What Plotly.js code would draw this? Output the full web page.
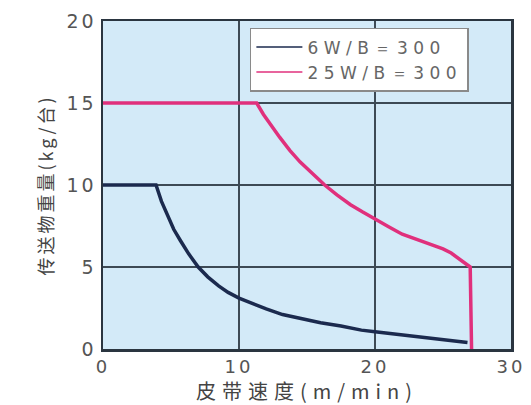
<!DOCTYPE html>
<html>
<head>
<meta charset="utf-8">
<script src="https://cdn.plot.ly/plotly-3.0.1.min.js"></script>
<style>
html,body{margin:0;padding:0;background:#fff;}
#chart{width:531px;height:405px;}
.xtick text, .ytick text { letter-spacing: 3px; }
text.legendtext { letter-spacing: 5.5px; }
text.xtitle { letter-spacing: 6px; }
text.ytitle { letter-spacing: 3px; }
</style>
</head>
<body>
<div id="chart"></div>
<script>
// Series 1: 6W / B=300  (belt speed m/min -> conveyed weight kg)
const speed6W = [0, 3.9, 4.3, 4.7, 5.2, 5.7, 6.3, 7.0, 7.7, 8.5, 9.2, 10.0, 11.0, 12.0, 13.2, 14.5, 16.0, 17.5, 19.0, 20.0, 21.5, 23.0, 25.0, 26.8];
const weight6W = [10, 10, 9.0, 8.2, 7.3, 6.6, 5.8, 5.0, 4.4, 3.85, 3.45, 3.1, 2.75, 2.45, 2.1, 1.85, 1.6, 1.4, 1.15, 1.05, 0.9, 0.75, 0.55, 0.4];
// Series 2: 25W / B=300
const speed25W = [0, 11.3, 11.8, 12.3, 13.0, 13.75, 14.5, 15.4, 16.3, 17.2, 18.2, 19.1, 20.0, 21.0, 22.0, 23.0, 24.0, 25.0, 25.6, 26.2, 26.7, 27.0, 27.1];
const weight25W = [15, 15, 14.3, 13.7, 12.9, 12.1, 11.4, 10.7, 10.0, 9.4, 8.8, 8.35, 7.95, 7.45, 7.0, 6.7, 6.4, 6.1, 5.85, 5.5, 5.2, 5.0, 0];
const seriesNames = ["6W/B＝300", "25W/B＝300"];
const xTicks = [0, 10, 20, 30];
const yTicks = [0, 5, 10, 15, 20];

const colors = ['#1b2a4e', '#e0307c'];
const tickFont = '"DejaVu Sans", "Liberation Sans", sans-serif';
const cjkFont = '"Noto Sans CJK SC", "Noto Sans", sans-serif';

const traces = [
  {x: speed6W, y: weight6W, name: seriesNames[0], mode: 'lines', showlegend: false,
   line: {color: colors[0], width: 3.5}},
  {x: speed25W, y: weight25W, name: seriesNames[1], mode: 'lines', showlegend: false,
   line: {color: colors[1], width: 3.5}},
  // legend entries (thin sample lines, no data)
  {x: [null], y: [null], name: seriesNames[0], mode: 'lines', line: {color: colors[0], width: 1.5}},
  {x: [null], y: [null], name: seriesNames[1], mode: 'lines', line: {color: colors[1], width: 1.5}}
];

const layout = {
  width: 531, height: 405,
  margin: {l: 103, r: 20, t: 21, b: 56},
  paper_bgcolor: '#ffffff',
  plot_bgcolor: '#d3eaf8',
  font: {family: tickFont, color: '#444', size: 17},
  showlegend: true,
  legend: {
    x: 0.36, y: 0.979, xanchor: 'left', yanchor: 'top',
    bgcolor: '#ffffff', bordercolor: '#8a8a8a', borderwidth: 1.5,
    font: {family: tickFont, size: 17, color: '#666'},
    tracegroupgap: 0, itemwidth: 46
  },
  xaxis: {
    range: [0, 30], tickvals: xTicks, ticktext: xTicks.map(String),
    showgrid: true, gridcolor: '#3d4a55', gridwidth: 1.5,
    zeroline: false, showline: true, linecolor: '#2a3540', linewidth: 2.5, mirror: true,
    ticks: '', tickfont: {family: tickFont, size: 18, color: '#555'},
    title: {text: '皮带速度(m/min)', font: {family: cjkFont, size: 20, color: '#444'}}
  },
  yaxis: {
    range: [0, 20], tickvals: yTicks, ticktext: yTicks.map(String),
    showgrid: true, gridcolor: '#3d4a55', gridwidth: 1.5,
    zeroline: false, showline: true, linecolor: '#2a3540', linewidth: 2.5, mirror: true,
    ticks: '', tickfont: {family: tickFont, size: 19, color: '#555'},
    title: {text: '传送物重量(kg/台)', font: {family: cjkFont, size: 18, color: '#444'}, standoff: 8}
  }
};

Plotly.newPlot('chart', traces, layout, {displayModeBar: false, staticPlot: true});
</script>
</body>
</html>
